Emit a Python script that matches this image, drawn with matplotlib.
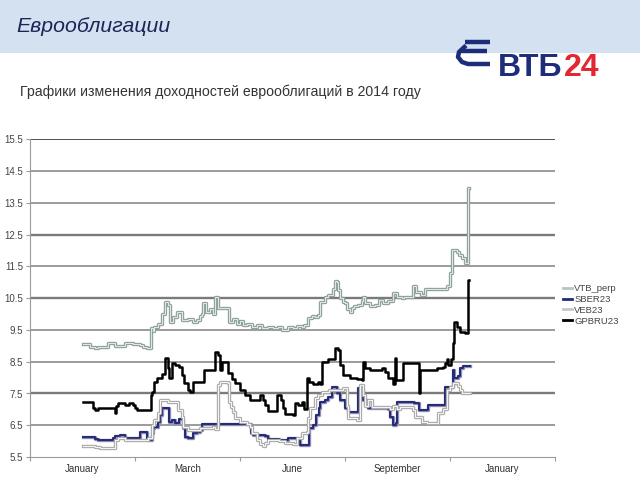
import matplotlib
matplotlib.use("Agg")
import matplotlib.pyplot as plt
from matplotlib.lines import Line2D
from matplotlib.patches import Rectangle
import numpy as np

plt.rcParams['font.family'] = ['Liberation Sans', 'DejaVu Sans']

# ---------------- data (day offset from start of series, yield %) ----------------
vtb_days = [0, 6, 10, 13, 21, 27, 35, 42, 48, 50, 54, 57, 59, 60, 63, 66, 69, 71, 73, 76, 79, 83, 88, 92, 96, 98,
            100, 101, 103, 107, 109, 111, 113, 117, 122, 123, 126, 129, 132, 134, 138, 142, 146, 150, 155, 160,
            164, 167, 172, 176, 180, 184, 186, 189, 192, 195, 197, 199, 203, 206, 210, 212, 213, 214, 216, 218,
            220, 222, 224, 226, 228, 231, 234, 235, 237, 241, 245, 249, 252, 256, 260, 264, 268, 270, 277, 280,
            284, 287, 292, 298, 304, 306, 308, 310, 314, 316, 318, 321, 323, 324]
vtb_vals = [9.06, 8.97, 8.93, 8.97, 9.09, 9.0, 9.08, 9.05, 9.03, 8.95, 8.93, 9.56, 9.48, 9.6, 9.7, 10.0, 10.38, 10.3,
            9.75, 9.9, 10.07, 9.81, 9.85, 9.75, 9.8, 9.95, 10.0, 10.35, 10.07, 10.15, 10.0, 10.54, 10.2, 10.19,
            10.19, 9.75, 9.85, 9.7, 9.78, 9.65, 9.7, 9.6, 9.65, 9.55, 9.6, 9.55, 9.58, 9.5, 9.6, 9.55, 9.62, 9.58,
            9.65, 9.88, 9.95, 9.9, 9.97, 10.38, 10.55, 10.6, 10.8, 11.05, 11.0, 10.75, 10.5, 10.38, 10.35, 10.15,
            10.07, 10.2, 10.25, 10.3, 10.4, 10.55, 10.35, 10.25, 10.3, 10.45, 10.35, 10.4, 10.67, 10.55, 10.5,
            10.55, 10.9, 10.7, 10.6, 10.78, 10.8, 10.78, 10.8, 10.9, 11.3, 12.02, 11.95, 11.85, 11.77, 11.6,
            13.97, 13.97]

gpb_days = [0, 8, 10, 13, 25, 27, 28, 29, 35, 39, 42, 44, 45, 55, 57, 58, 60, 62, 66, 69, 71, 72, 75, 77, 81, 83,
            85, 88, 90, 92, 101, 102, 109, 111, 113, 115, 117, 121, 122, 125, 128, 132, 136, 140, 149, 151, 153,
            155, 161, 163, 166, 168, 170, 176, 178, 181, 184, 186, 188, 190, 193, 197, 199, 201, 206, 210, 212,
            214, 216, 218, 222, 224, 230, 234, 235, 237, 241, 249, 251, 254, 256, 260, 262, 263, 266, 269, 281,
            282, 283, 294, 297, 302, 304, 306, 307, 309, 311, 312, 314, 317, 321, 323, 324]
gpb_vals = [7.23, 7.04, 6.98, 7.04, 7.04, 6.88, 7.1, 7.2, 7.14, 7.2, 7.14, 7.05, 6.98, 6.98, 7.45, 7.55, 7.85, 7.98,
            8.1, 8.62, 8.3, 7.98, 8.45, 8.4, 8.35, 8.08, 7.83, 7.6, 7.55, 7.86, 7.86, 8.24, 8.24, 8.8, 8.7, 8.24,
            8.5, 8.5, 8.15, 7.95, 7.83, 7.6, 7.45, 7.3, 7.45, 7.3, 7.14, 6.95, 6.95, 7.45, 7.3, 7.05, 6.85, 6.82,
            7.2, 7.15, 7.23, 7.0, 7.98, 7.85, 7.8, 7.85, 7.8, 8.5, 8.6, 8.6, 8.93, 8.87, 8.4, 8.08, 8.08, 7.98,
            7.95, 7.92, 8.5, 8.3, 8.24, 8.24, 8.3, 8.18, 7.98, 7.8, 8.62, 7.92, 7.92, 8.45, 8.45, 7.5, 8.24, 8.24,
            8.3, 8.35, 8.45, 8.6, 8.4, 8.6, 9.1, 9.75, 9.6, 9.45, 9.4, 11.07, 11.07]

sber_days = [0, 10, 13, 25, 27, 31, 35, 46, 48, 54, 58, 59, 60, 63, 65, 66, 71, 72, 75, 77, 81, 84, 86, 88, 92, 96,
             98, 100, 140, 141, 143, 151, 153, 155, 165, 172, 178, 180, 182, 189, 190, 193, 196, 198, 199, 203,
             206, 209, 213, 216, 220, 223, 231, 235, 239, 256, 258, 260, 263, 264, 276, 278, 282, 288, 290, 303,
             304, 308, 311, 312, 315, 317, 319, 325]
sber_vals = [6.13, 6.08, 6.04, 6.1, 6.15, 6.2, 6.1, 6.1, 6.28, 6.04, 6.26, 6.4, 6.45, 6.6, 6.82, 7.04, 7.04, 6.6,
             6.67, 6.57, 6.7, 6.4, 6.13, 6.1, 6.26, 6.3, 6.35, 6.54, 6.54, 6.26, 6.2, 6.2, 6.15, 6.07, 6.05, 6.1,
             6.1, 6.04, 5.88, 5.88, 6.42, 6.5, 6.82, 7.04, 7.23, 7.3, 7.39, 7.7, 7.5, 7.3, 7.04, 6.92, 7.67, 7.3,
             7.04, 7.0, 6.75, 6.5, 6.57, 7.23, 7.23, 7.2, 6.98, 6.98, 7.14, 7.14, 7.7, 7.7, 8.24, 7.98, 8.05, 8.3,
             8.37, 8.37]

veb_days = [0, 10, 14, 25, 27, 29, 35, 44, 52, 55, 58, 60, 63, 65, 71, 79, 80, 83, 84, 88, 98, 109, 111, 113, 115,
            122, 123, 124, 126, 128, 132, 138, 140, 142, 146, 149, 151, 153, 155, 165, 170, 176, 180, 184, 188,
            189, 191, 195, 197, 201, 207, 218, 222, 223, 230, 233, 235, 237, 239, 243, 251, 258, 260, 264, 266,
            277, 279, 285, 289, 297, 298, 302, 306, 308, 311, 315, 317, 318, 325]
veb_vals = [5.85, 5.82, 5.78, 5.78, 6.04, 6.1, 6.04, 6.05, 6.02, 6.1, 6.5, 6.67, 6.9, 7.3, 7.23, 7.23, 6.98, 6.76,
            6.45, 6.35, 6.42, 6.45, 6.38, 7.77, 7.86, 7.83, 7.23, 7.07, 6.92, 6.73, 6.6, 6.55, 6.45, 6.26, 6.05,
            5.9, 5.85, 5.95, 6.02, 6.0, 5.95, 5.92, 6.1, 6.25, 6.3, 6.73, 7.04, 7.36, 7.45, 7.55, 7.6, 7.66, 7.1,
            6.73, 6.65, 7.77, 7.45, 7.1, 7.3, 7.07, 7.07, 7.0, 7.1, 7.0, 7.07, 6.98, 6.76, 6.6, 6.57, 6.57, 6.9,
            7.0, 7.6, 7.7, 7.83, 7.75, 7.6, 7.5, 7.5]

series_names = ['VTB_perp', 'SBER23', 'VEB23', 'GPBRU23']
month_labels = ['January', 'March', 'June', 'September', 'January']
y_ticks = [5.5, 6.5, 7.5, 8.5, 9.5, 10.5, 11.5, 12.5, 13.5, 14.5, 15.5]

# ---------------- figure ----------------
W, H = 640, 480
fig = plt.figure(figsize=(6.4, 4.8), dpi=100)
fig.patch.set_facecolor('white')

def fx(px):
    return px / W

def fy(py):
    return 1 - py / H

# header band
fig.patches.append(Rectangle((0, fy(53)), 1, 53 / H, transform=fig.transFigure,
                             facecolor='#d4e1f1', edgecolor='none', zorder=0))
fig.text(fx(16), fy(26), 'Еврооблигации', fontsize=15.3, style='italic', color='#1c2557',
         ha='left', va='center')
fig.text(fx(20), fy(92), 'Графики изменения доходностей еврооблигаций в 2014 году', fontsize=10.2,
         color='#333333', ha='left', va='center')

# logo
navy = '#1d2d7a'
fig.text(fx(498), fy(68), 'ВТБ', fontsize=23, fontweight='bold', color=navy, ha='left', va='center')
fig.text(fx(564), fy(68), '24', fontsize=23, fontweight='bold', color='#e3262f', ha='left', va='center')
for xs, ys in [([465, 490], [42, 42]), ([461, 487], [50.5, 50.5])]:
    fig.lines.append(Line2D([fx(v) for v in xs], [fy(v) for v in ys], transform=fig.transFigure,
                            color=navy, lw=3.2, solid_capstyle='butt'))
fig.lines.append(Line2D([fx(v) for v in [466, 459, 458, 462, 468, 490]],
                        [fy(v) for v in [45.5, 52, 57, 62, 64, 64]], transform=fig.transFigure,
                        color=navy, lw=3.2, solid_capstyle='butt', solid_joinstyle='round'))

# chart axes
ax = fig.add_axes([fx(30), fy(457), (555 - 30) / W, (457 - 139.5) / H])
ax.set_ylim(5.5, 15.5)
day0 = -44.5
step = 88.2
ax.set_xlim(day0, day0 + 5 * step)

for yv in y_ticks[1:]:
    if yv == 15.5:
        c, lw = '#505050', 1.4
    elif yv in (12.5, 10.5, 7.5):
        c, lw = '#7a7a7a', 1.7
    else:
        c, lw = '#8a8a8a', 1.2
    ax.axhline(yv, color=c, lw=lw, zorder=1)

ax.spines['top'].set_visible(False)
ax.spines['right'].set_visible(False)
ax.spines['left'].set_color('#9a9a9a')
ax.spines['bottom'].set_color('#9a9a9a')
ax.set_yticks(y_ticks)
ax.set_yticklabels([f'{v:.1f}' for v in y_ticks])
ax.tick_params(axis='y', length=3, color='#9a9a9a', labelsize=7, labelcolor='#444444', pad=2)
major = [day0 + i * step for i in range(6)]
minor = [day0 + (i + 0.5) * step for i in range(5)]
ax.set_xticks(major)
ax.set_xticklabels([''] * 6)
ax.set_xticks(minor, minor=True)
ax.set_xticklabels(month_labels, minor=True)
ax.tick_params(axis='x', which='major', length=3, color='#9a9a9a')
ax.tick_params(axis='x', which='minor', length=0, labelsize=7, labelcolor='#333333', pad=5)

# series
ax.plot(vtb_days, vtb_vals, drawstyle='steps-post', color='#8e9e9a', lw=2.4, zorder=3)
ax.plot(vtb_days, vtb_vals, drawstyle='steps-post', color='#dde8e4', lw=0.8, zorder=3)
ax.plot(sber_days, sber_vals, drawstyle='steps-post', color='#8c8cb0', lw=2.4, zorder=4)
ax.plot(sber_days, sber_vals, drawstyle='steps-post', color='#232a78', lw=1.4, zorder=4)
ax.plot(veb_days, veb_vals, drawstyle='steps-post', color='#a9a9a9', lw=2.4, zorder=5)
ax.plot(veb_days, veb_vals, drawstyle='steps-post', color='#f4f4f4', lw=0.8, zorder=5)
ax.plot(gpb_days, gpb_vals, drawstyle='steps-post', color='#000000', lw=1.8, zorder=6)

handles = [Line2D([], [], color='#b8c4c0', lw=2),
           Line2D([], [], color='#232a78', lw=2),
           Line2D([], [], color='#c8c8c8', lw=2),
           Line2D([], [], color='#000000', lw=2)]
fig.legend(handles, series_names, loc='upper left', bbox_to_anchor=(fx(563), fy(284)),
           frameon=False, fontsize=6.8, handlelength=0.9, handletextpad=0.3, labelspacing=0.2,
           borderaxespad=0, borderpad=0, labelcolor='#444444')

fig.savefig('out.png', dpi=100)
